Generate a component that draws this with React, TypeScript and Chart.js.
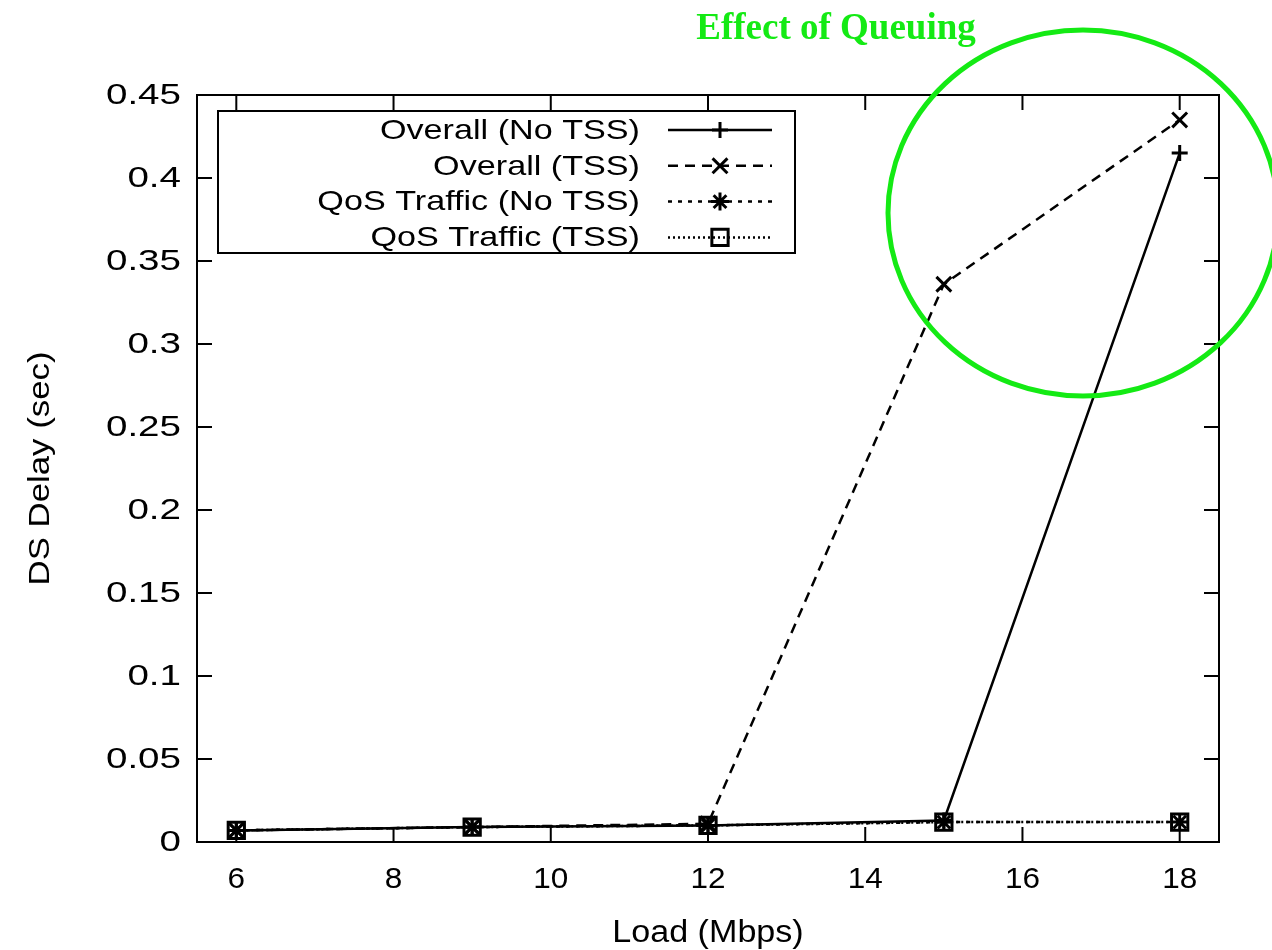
import React, { useEffect, useRef } from 'react';
import { Chart, registerables } from 'chart.js';
import { drawPoint } from 'chart.js/helpers';

Chart.register(...registerables);

// Offered load (Mbps) at which each run was measured
const loads = [6, 9, 12, 15, 18];

// Mean downstream delay in seconds
const overallNoTss = [0.007, 0.009, 0.010, 0.013, 0.415];
const overallTss = [0.007, 0.009, 0.011, 0.336, 0.435];
const qosNoTss = [0.007, 0.009, 0.010, 0.012, 0.012];
const qosTss = [0.007, 0.009, 0.010, 0.012, 0.012];

const seriesNames = [
  'Overall (No TSS)',
  'Overall (TSS)',
  'QoS Traffic (No TSS)',
  'QoS Traffic (TSS)',
];

const xTicks = [6, 8, 10, 12, 14, 16, 18];
const xTickLabels = ['6', '8', '10', '12', '14', '16', '18'];
const yTicks = [0, 0.05, 0.1, 0.15, 0.2, 0.25, 0.3, 0.35, 0.4, 0.45];
const yTickLabels = ['0', '0.05', '0.1', '0.15', '0.2', '0.25', '0.3', '0.35', '0.4', '0.45'];

const xTitle = 'Load (Mbps)';
const yTitle = 'DS Delay (sec)';
const noteText = 'Effect of Queuing';

const SANS = '"Liberation Sans", Arial, Helvetica, sans-serif';
const SERIF = '"Liberation Serif", "Times New Roman", serif';
const GREEN = '#14ea14';
const TICK_LEN = 15;

const toPoints = (ys: number[]) => loads.map((x, i) => ({ x, y: ys[i] }));

// Text drawn with a horizontal stretch factor (the plot font is a wide sans)
function wideText(
  ctx: CanvasRenderingContext2D,
  text: string,
  x: number,
  y: number,
  opts: { size: number; sx: number; align: CanvasTextAlign; baseline: CanvasTextBaseline; rotate?: boolean; font?: string }
) {
  ctx.save();
  ctx.translate(x, y);
  if (opts.rotate) ctx.rotate(-Math.PI / 2);
  ctx.scale(opts.sx, 1);
  ctx.font = opts.font || `${opts.size}px ${SANS}`;
  ctx.textAlign = opts.align;
  ctx.textBaseline = opts.baseline;
  ctx.fillText(text, 0, 0);
  ctx.restore();
}

// Frame with inward ticks on all four sides, tick labels and axis titles
const framePlugin = {
  id: 'frameTicks',
  afterDatasetsDraw(chart: any) {
    const { ctx, chartArea: a, scales } = chart;
    const xs = scales.x;
    const ys = scales.y;
    ctx.save();
    ctx.strokeStyle = '#000';
    ctx.lineWidth = 2;
    ctx.setLineDash([]);
    ctx.strokeRect(a.left, a.top, a.right - a.left, a.bottom - a.top);
    ctx.beginPath();
    for (const v of xTicks) {
      const px = xs.getPixelForValue(v);
      ctx.moveTo(px, a.bottom);
      ctx.lineTo(px, a.bottom - TICK_LEN);
      ctx.moveTo(px, a.top);
      ctx.lineTo(px, a.top + TICK_LEN);
    }
    for (const v of yTicks) {
      const py = ys.getPixelForValue(v);
      ctx.moveTo(a.left, py);
      ctx.lineTo(a.left + TICK_LEN, py);
      ctx.moveTo(a.right, py);
      ctx.lineTo(a.right - TICK_LEN, py);
    }
    ctx.stroke();

    ctx.fillStyle = '#000';
    xTicks.forEach((v, i) => {
      wideText(ctx, xTickLabels[i], xs.getPixelForValue(v), a.bottom + 38, {
        size: 30, sx: 1.05, align: 'center', baseline: 'middle',
      });
    });
    yTicks.forEach((v, i) => {
      wideText(ctx, yTickLabels[i], a.left - 16, ys.getPixelForValue(v) + 1, {
        size: 29, sx: 1.33, align: 'right', baseline: 'middle',
      });
    });
    wideText(ctx, xTitle, (a.left + a.right) / 2, 942, {
      size: 31, sx: 1.1, align: 'center', baseline: 'alphabetic',
    });
    wideText(ctx, yTitle, 49, (a.top + a.bottom) / 2, {
      size: 29, sx: 1.2, align: 'center', baseline: 'alphabetic', rotate: true,
    });
    ctx.restore();
  },
};

// Boxed key in the upper-left corner: right-aligned names, then a line sample with its marker
const keyPlugin = {
  id: 'boxedKey',
  afterDraw(chart: any) {
    const { ctx } = chart;
    const box = { left: 218, top: 111, right: 795, bottom: 253 };
    const rowTop = 130;
    const rowStep = 35.8;
    const textRight = 640;
    const sampleLeft = 668;
    const sampleRight = 772;
    ctx.save();
    ctx.strokeStyle = '#000';
    ctx.lineWidth = 2;
    ctx.setLineDash([]);
    ctx.strokeRect(box.left, box.top, box.right - box.left, box.bottom - box.top);
    ctx.fillStyle = '#000';
    chart.data.datasets.forEach((ds: any, i: number) => {
      const y = rowTop + i * rowStep;
      wideText(ctx, ds.label, textRight, y + 1, { size: 28, sx: 1.22, align: 'right', baseline: 'middle' });
      ctx.save();
      ctx.lineWidth = ds.borderWidth;
      ctx.setLineDash(ds.borderDash || []);
      ctx.beginPath();
      ctx.moveTo(sampleLeft, y);
      ctx.lineTo(sampleRight, y);
      ctx.stroke();
      ctx.setLineDash([]);
      ctx.lineWidth = ds.pointBorderWidth;
      ctx.fillStyle = 'rgba(0,0,0,0)';
      drawPoint(
        ctx,
        { pointStyle: ds.pointStyle, radius: ds.pointRadius, rotation: 0, borderWidth: ds.pointBorderWidth },
        (sampleLeft + sampleRight) / 2,
        y
      );
      ctx.restore();
    });
    ctx.restore();
  },
};

// Green ring and caption highlighting the high-load region
const notePlugin = {
  id: 'queuingNote',
  afterDraw(chart: any) {
    const { ctx } = chart;
    ctx.save();
    ctx.strokeStyle = GREEN;
    ctx.lineWidth = 5;
    ctx.setLineDash([]);
    ctx.beginPath();
    ctx.ellipse(1083, 213, 195, 183, 0, 0, Math.PI * 2);
    ctx.stroke();
    ctx.fillStyle = GREEN;
    wideText(ctx, noteText, 836, 39, {
      size: 37, sx: 1.0, align: 'center', baseline: 'alphabetic', font: `bold 37px ${SERIF}`,
    });
    ctx.restore();
  },
};

export default function App() {
  const canvasRef = useRef<HTMLCanvasElement | null>(null);

  useEffect(() => {
    const canvas = canvasRef.current;
    if (!canvas) return;

    const common = {
      borderColor: '#000',
      backgroundColor: '#000',
      pointBorderColor: '#000',
      pointBackgroundColor: 'rgba(0,0,0,0)',
      borderWidth: 2.5,
      pointBorderWidth: 3,
      fill: false,
      tension: 0,
    };

    const chart = new Chart(canvas, {
      type: 'line',
      data: {
        datasets: [
          { ...common, label: seriesNames[0], data: toPoints(overallNoTss), pointStyle: 'cross', pointRadius: 8, borderDash: [] },
          { ...common, label: seriesNames[1], data: toPoints(overallTss), pointStyle: 'crossRot', pointRadius: 10.5, borderDash: [10, 7] },
          { ...common, label: seriesNames[2], data: toPoints(qosNoTss), pointStyle: 'star', pointRadius: 9, borderDash: [4, 6] },
          { ...common, label: seriesNames[3], data: toPoints(qosTss), pointStyle: 'rect', pointRadius: 11.5, borderDash: [2, 3] },
        ],
      },
      options: {
        responsive: false,
        animation: false,
        events: [],
        layout: { padding: { top: 95, right: 53, left: 0, bottom: 0 } },
        plugins: {
          legend: { display: false },
          title: { display: false },
          tooltip: { enabled: false },
        },
        scales: {
          x: {
            type: 'linear',
            min: 5.5,
            max: 18.5,
            afterBuildTicks: (scale: any) => {
              scale.ticks = xTicks.map((v) => ({ value: v }));
            },
            afterFit: (scale: any) => {
              scale.height = 108;
            },
            ticks: { display: false },
            grid: { display: false, drawTicks: false },
            border: { display: false },
          },
          y: {
            type: 'linear',
            min: 0,
            max: 0.45,
            afterBuildTicks: (scale: any) => {
              scale.ticks = yTicks.map((v) => ({ value: v }));
            },
            afterFit: (scale: any) => {
              scale.width = 197;
            },
            ticks: { display: false },
            grid: { display: false, drawTicks: false },
            border: { display: false },
          },
        },
      },
      plugins: [framePlugin, keyPlugin, notePlugin],
    } as any);

    return () => chart.destroy();
  }, []);

  return (
    <div style={{ position: 'absolute', left: 0, top: 0, width: 1272, height: 950, background: '#fff' }}>
      <canvas ref={canvasRef} width={1272} height={950} style={{ display: 'block' }} />
    </div>
  );
}
